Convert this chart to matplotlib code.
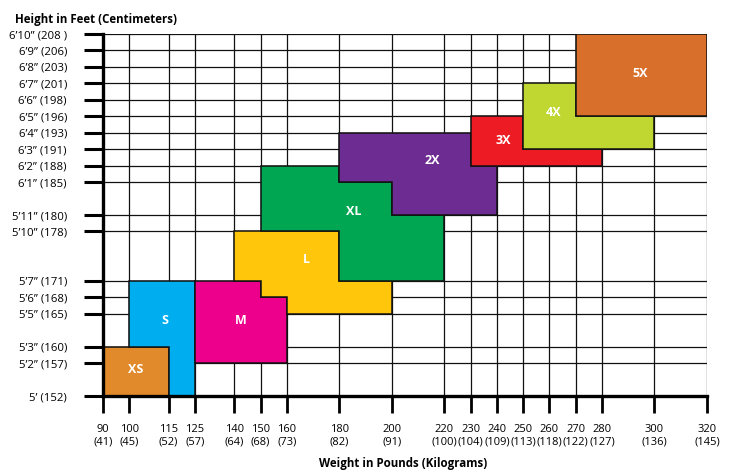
import matplotlib.pyplot as plt
from matplotlib.patches import Polygon

plt.rcParams['font.family'] = ['Open Sans', 'DejaVu Sans']

# weight axis (pounds, kilograms)
weight_lb = [90, 100, 115, 125, 140, 150, 160, 180, 200, 220, 230, 240, 250, 260, 270, 280, 300, 320]
weight_kg = [41, 45, 52, 57, 64, 68, 73, 82, 91, 100, 104, 109, 113, 118, 122, 127, 136, 145]

# height axis (inches) and labels
height_in = [60, 62, 63, 65, 66, 67, 70, 71, 73, 74, 75, 76, 77, 78, 79, 80, 81, 82]
height_labels = ["5\u2019 (152)", "5\u20192\u201d (157)", "5\u20193\u201d (160)", "5\u20195\u201d (165)",
                 "5\u20196\u201d (168)", "5\u20197\u201d (171)", "5\u201910\u201d (178)", "5\u201911\u201d (180)",
                 "6\u20191\u201d (185)", "6\u20192\u201d (188)", "6\u20193\u201d (191)", "6\u20194\u201d (193)",
                 "6\u20195\u201d (196)", "6\u20196\u201d (198)", "6\u20197\u201d (201)", "6\u20198\u201d (203)",
                 "6\u20199\u201d (206)", "6\u201910\u201d (208 )"]

# size regions: outline vertices as (pounds, inches)
sizes = ["XS", "S", "M", "L", "XL", "2X", "3X", "4X", "5X"]
outlines = [
    [(90, 60), (90, 63), (115, 63), (115, 60)],
    [(115, 60), (115, 63), (100, 63), (100, 67), (125, 67), (125, 60)],
    [(125, 62), (125, 67), (150, 67), (150, 66), (160, 66), (160, 62)],
    [(140, 67), (140, 70), (180, 70), (180, 67), (200, 67), (200, 65), (160, 65), (160, 66), (150, 66), (150, 67)],
    [(150, 70), (150, 74), (180, 74), (180, 73), (200, 73), (200, 71), (220, 71), (220, 67), (180, 67), (180, 70)],
    [(180, 73), (180, 76), (230, 76), (230, 74), (240, 74), (240, 71), (200, 71), (200, 73)],
    [(230, 74), (230, 77), (250, 77), (250, 75), (280, 75), (280, 74)],
    [(250, 75), (250, 79), (270, 79), (270, 77), (300, 77), (300, 75)],
    [(270, 77), (270, 82), (320, 82), (320, 77)],
]
label_pos = [(102.5, 61.6), (113.5, 64.6), (142.5, 64.6), (167.5, 68.3), (185.5, 71.2),
             (215.5, 74.3), (242.5, 75.5), (261.5, 77.2), (294.5, 79.6)]
colors = ["#E08A2C", "#00AEEF", "#EC008C", "#FFC60B", "#00A651", "#6D2C91", "#ED1C24", "#BFD730", "#D8702C"]

fig = plt.figure(figsize=(7.29, 4.75), dpi=100)
ax = fig.add_axes([0.1413, 0.1663, 0.8285, 0.7621])

# grid
for w in weight_lb:
    ax.plot([w, w], [60, 82], color="#111111", lw=0.9, zorder=1)
for h in height_in:
    ax.plot([90, 320], [h, h], color="#111111", lw=0.9, zorder=1)

# size regions
for name, pts, c, (lx, ly) in zip(sizes, outlines, colors, label_pos):
    ax.add_patch(Polygon(pts, closed=True, facecolor=c, edgecolor="#111111", lw=1.1, zorder=2))
    ax.text(lx, ly, name, color="white", fontsize=9, fontweight="bold",
            ha="center", va="center", zorder=3)

ax.set_xlim(90, 320)
ax.set_ylim(60, 82)
ax.set_xticks(weight_lb)
ax.set_xticklabels([f"{lb}\n({kg})" for lb, kg in zip(weight_lb, weight_kg)], fontsize=8, linespacing=1.15)
ax.set_yticks(height_in)
ax.set_yticklabels(height_labels, fontsize=8.2)
ax.tick_params(axis="y", length=14, width=2.2, pad=12, color="black")
ax.tick_params(axis="x", length=12.5, width=2, pad=8, color="black")

for s in ["top", "right"]:
    ax.spines[s].set_visible(False)
ax.spines["left"].set_linewidth(2.4)
ax.spines["bottom"].set_linewidth(2.4)

fig.text(0.02, 0.96, "Height in Feet (Centimeters)", fontsize=8.3, fontweight="bold", ha="left", va="center")
fig.text(0.553, 0.025, "Weight in Pounds (Kilograms)", fontsize=8.3, fontweight="bold", ha="center", va="center")

plt.savefig("out.png", dpi=100)
